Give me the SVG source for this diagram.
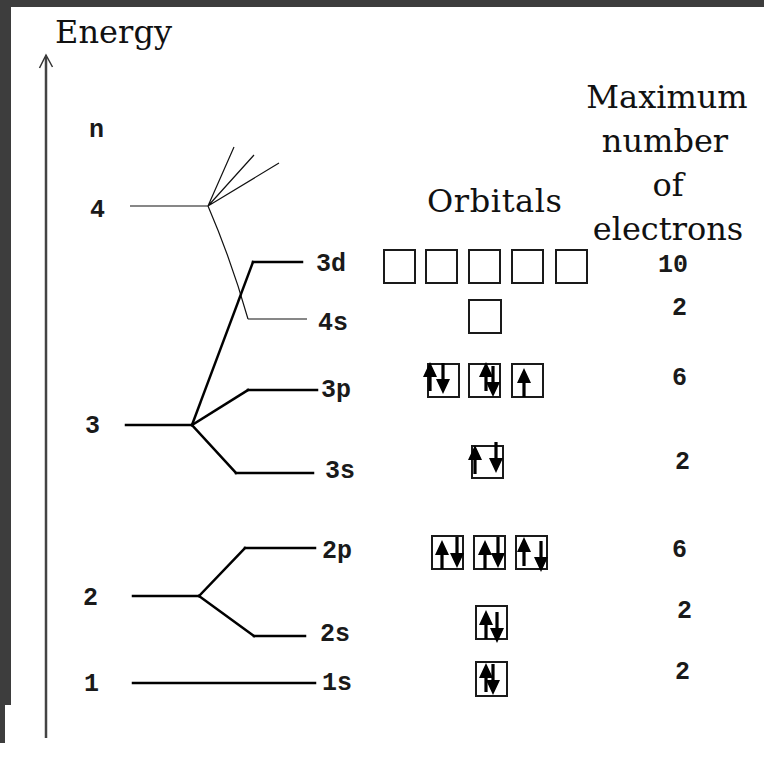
<svg xmlns="http://www.w3.org/2000/svg" xmlns:xlink="http://www.w3.org/1999/xlink" width="764" height="762" viewBox="0 0 764 762">
  <style>
    .hand { font-family: "DejaVu Serif", "Liberation Serif", serif; font-size: 32px; fill: #111; }
    .lbl { font-family: "Liberation Mono", "DejaVu Sans Mono", monospace; font-weight: bold; font-size: 25px; fill: #1a1a1a; }
    .lvl { stroke: #000; stroke-width: 2.5; fill: none; stroke-linecap: square; }
    .thin { stroke: #111; stroke-width: 1.2; fill: none; }
    .box { fill: #fff; stroke: #1a1a1a; stroke-width: 2; }
    .spin { fill: #000; }
  </style>
  <defs>
    <path id="up" d="M0,0 L7,15 L1.6,15 L1.6,29 L-1.6,29 L-1.6,15 L-7,15 Z"/>
    <path id="dn" d="M0,0 L-7,-15 L-1.6,-15 L-1.6,-31 L1.6,-31 L1.6,-15 L7,-15 Z"/>
  </defs>

  <!-- page frame -->
  <rect x="0" y="0" width="764" height="762" fill="#3d3d3d"/>
  <rect x="11" y="7" width="753" height="755" fill="#fff"/>
  <rect x="5" y="705" width="10" height="57" fill="#fff"/>
  <rect x="0" y="743" width="12" height="19" fill="#fff"/>

  <!-- energy axis -->
  <g id="axis">
    <line x1="46" y1="57" x2="46" y2="738" stroke="#444" stroke-width="2.5"/>
    <path d="M39.5,68 L46,55 L52.5,67" fill="none" stroke="#333" stroke-width="1.5"/>
    <text class="hand" x="55" y="43" textLength="117">Energy</text>
  </g>

  <!-- column headings -->
  <g id="heading-orbitals">
    <text class="hand" x="427" y="212" textLength="135">Orbitals</text>
  </g>
  <g id="heading-max" text-anchor="middle">
    <text class="hand" x="667" y="108">Maximum</text>
    <text class="hand" x="665" y="152">number</text>
    <text class="hand" x="668" y="196">of</text>
    <text class="hand" x="668" y="240">electrons</text>
  </g>
  <text class="lbl" x="89" y="137">n</text>

  <!-- shell levels -->
  <g id="shell-4">
    <line class="thin" x1="130" y1="206" x2="208" y2="206"/>
    <path class="thin" d="M208,206 L234,147 M208,206 L254,155 M208,206 L279,163"/>
    <text class="lbl" x="90" y="217">4</text>
  </g>
  <g id="shell-3">
    <line class="lvl" x1="126" y1="425" x2="192" y2="425"/>
    <text class="lbl" x="85" y="433">3</text>
  </g>
  <g id="shell-2">
    <line class="lvl" x1="133" y1="596" x2="199" y2="596"/>
    <text class="lbl" x="83" y="605">2</text>
  </g>

  <!-- branches from shells to subshells -->
  <g id="connectors">
    <path class="thin" d="M208,206 Q232,262 248,319"/>
    <path class="lvl" d="M192,425 L253,262"/>
    <path class="lvl" d="M192,425 L248,390"/>
    <path class="lvl" d="M192,425 L236,473"/>
    <path class="lvl" d="M199,596 L245,548"/>
    <path class="lvl" d="M199,596 L254,636"/>
  </g>

  <!-- subshells -->
  <g id="sub-3d">
    <line class="lvl" x1="253" y1="262" x2="302" y2="262"/>
    <text class="lbl" x="316" y="271">3d</text>
    <rect class="box" x="384" y="250" width="31" height="33"/>
    <rect class="box" x="426" y="250" width="31" height="33"/>
    <rect class="box" x="469" y="250" width="31" height="33"/>
    <rect class="box" x="512" y="250" width="31" height="33"/>
    <rect class="box" x="556" y="250" width="31" height="33"/>
    <text class="lbl" x="658" y="272">10</text>
  </g>
  <g id="sub-4s">
    <line class="thin" x1="248" y1="319" x2="307" y2="319" stroke-width="2"/>
    <text class="lbl" x="318" y="330">4s</text>
    <rect class="box" x="469" y="300" width="32" height="33"/>
    <text class="lbl" x="672" y="315">2</text>
  </g>
  <g id="sub-3p">
    <line class="lvl" x1="248" y1="390" x2="317" y2="390"/>
    <text class="lbl" x="321" y="397">3p</text>
    <rect class="box" x="428" y="364" width="31" height="33"/>
    <rect class="box" x="469" y="364" width="31" height="33"/>
    <rect class="box" x="512" y="364" width="31" height="33"/>
    <use href="#up" class="spin" x="430" y="362"/>
    <use href="#dn" class="spin" x="443" y="394"/>
    <use href="#up" class="spin" x="486" y="362"/>
    <use href="#dn" class="spin" x="493" y="397"/>
    <use href="#up" class="spin" x="524" y="368"/>
    <text class="lbl" x="672" y="385">6</text>
  </g>
  <g id="sub-3s">
    <line class="lvl" x1="236" y1="473" x2="313" y2="473"/>
    <text class="lbl" x="325" y="478">3s</text>
    <rect class="box" x="472" y="446" width="31" height="32"/>
    <use href="#up" class="spin" x="475" y="445"/>
    <use href="#dn" class="spin" x="496" y="473"/>
    <text class="lbl" x="675" y="469">2</text>
  </g>
  <g id="sub-2p">
    <line class="lvl" x1="245" y1="548" x2="315" y2="548"/>
    <text class="lbl" x="322" y="558">2p</text>
    <rect class="box" x="432" y="536" width="31" height="33"/>
    <rect class="box" x="474" y="536" width="31" height="33"/>
    <rect class="box" x="516" y="536" width="31" height="33"/>
    <use href="#up" class="spin" x="442" y="540"/>
    <use href="#dn" class="spin" x="457" y="568"/>
    <use href="#up" class="spin" x="485" y="540"/>
    <use href="#dn" class="spin" x="498" y="568"/>
    <use href="#up" class="spin" x="524" y="537"/>
    <use href="#dn" class="spin" x="541" y="572"/>
    <text class="lbl" x="672" y="557">6</text>
  </g>
  <g id="sub-2s">
    <line class="lvl" x1="254" y1="636" x2="305" y2="636"/>
    <text class="lbl" x="320" y="641">2s</text>
    <rect class="box" x="476" y="606" width="31" height="33"/>
    <use href="#up" class="spin" x="486" y="610"/>
    <use href="#dn" class="spin" x="497" y="643"/>
    <text class="lbl" x="677" y="618">2</text>
  </g>
  <g id="sub-1s">
    <line class="lvl" x1="133" y1="683" x2="315" y2="683"/>
    <text class="lbl" x="84" y="691">1</text>
    <text class="lbl" x="322" y="690">1s</text>
    <rect class="box" x="476" y="662" width="31" height="34"/>
    <use href="#up" class="spin" x="486" y="663"/>
    <use href="#dn" class="spin" x="493" y="695"/>
    <text class="lbl" x="675" y="679">2</text>
  </g>
</svg>
